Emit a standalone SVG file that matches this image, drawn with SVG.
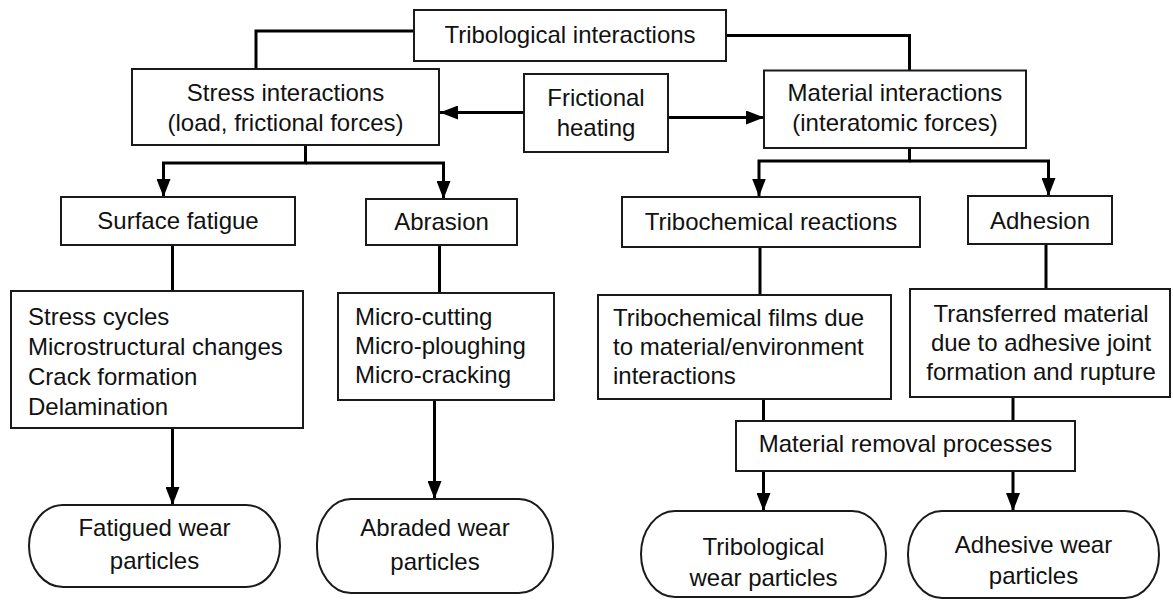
<svg xmlns="http://www.w3.org/2000/svg" width="1173" height="601" viewBox="0 0 1173 601">
<style>
  .box { fill: #fff; stroke: #1a1a1a; stroke-width: 2; }
  .t { font-family: "Liberation Sans", Arial, sans-serif; font-size: 24px; fill: #111; }
  .c { text-anchor: middle; }
  .conn path { fill: none; stroke: #000; stroke-width: 3; }
</style>
<defs>
  <marker id="arr" markerUnits="userSpaceOnUse" markerWidth="18" markerHeight="14" refX="18" refY="7" orient="auto">
    <path d="M0,0 L18,7 L0,14 Z" fill="#000"/>
  </marker>
</defs>
<rect width="1173" height="601" fill="#fff"/>

<g id="connectors" class="conn">
  <path d="M414,31 H256 V69"/>
  <path d="M726,35.5 H909.5 V70.5"/>
  <path d="M305.5,145 V163 H163.5 V197" marker-end="url(#arr)"/>
  <path d="M305.5,163 H443.5 V199" marker-end="url(#arr)"/>
  <path d="M524,112.5 H440" marker-end="url(#arr)"/>
  <path d="M668,117.5 H764" marker-end="url(#arr)"/>
  <path d="M909.5,148 V161 H759 V196.5" marker-end="url(#arr)"/>
  <path d="M909.5,161 H1048.5 V196" marker-end="url(#arr)"/>
  <path d="M172.5,245 V291"/>
  <path d="M439.5,245 V293"/>
  <path d="M760,247 V295"/>
  <path d="M1046,244 V289"/>
  <path d="M172.5,428 V505" marker-end="url(#arr)"/>
  <path d="M434.5,400 V499" marker-end="url(#arr)"/>
  <path d="M763.5,399 V421"/>
  <path d="M1013,397 V421"/>
  <path d="M763.5,471 V511" marker-end="url(#arr)"/>
  <path d="M1013,471 V511" marker-end="url(#arr)"/>
</g>

<g id="tribological-interactions">
  <rect class="box" x="414" y="10" width="312" height="51"/>
  <text class="t c" x="570" y="43">Tribological interactions</text>
</g>

<g id="stress-interactions">
  <rect class="box" x="132" y="69" width="307" height="76"/>
  <text class="t c" x="285.5" y="101">Stress interactions</text>
  <text class="t c" x="285.5" y="131">(load, frictional forces)</text>
</g>

<g id="frictional-heating">
  <rect class="box" x="524" y="74" width="144" height="78"/>
  <text class="t c" x="596" y="106">Frictional</text>
  <text class="t c" x="596" y="136">heating</text>
</g>

<g id="material-interactions">
  <rect class="box" x="764" y="70.5" width="262" height="77.5"/>
  <text class="t c" x="895" y="101">Material interactions</text>
  <text class="t c" x="895" y="131">(interatomic forces)</text>
</g>

<g id="surface-fatigue">
  <rect class="box" x="61" y="197" width="234" height="48"/>
  <text class="t c" x="178" y="229">Surface fatigue</text>
</g>

<g id="abrasion">
  <rect class="box" x="366" y="199" width="151" height="46"/>
  <text class="t c" x="441.5" y="230">Abrasion</text>
</g>

<g id="tribochemical-reactions">
  <rect class="box" x="622" y="197" width="298" height="50"/>
  <text class="t c" x="771" y="230">Tribochemical reactions</text>
</g>

<g id="adhesion">
  <rect class="box" x="968" y="196" width="144" height="48"/>
  <text class="t c" x="1040" y="229">Adhesion</text>
</g>

<g id="fatigue-mechanisms">
  <rect class="box" x="11" y="291" width="292" height="137"/>
  <text class="t" x="28" y="325">Stress cycles</text>
  <text class="t" x="28" y="355">Microstructural changes</text>
  <text class="t" x="28" y="385">Crack formation</text>
  <text class="t" x="28" y="415">Delamination</text>
</g>

<g id="abrasion-mechanisms">
  <rect class="box" x="338" y="293" width="216" height="107"/>
  <text class="t" x="355" y="325">Micro-cutting</text>
  <text class="t" x="355" y="354">Micro-ploughing</text>
  <text class="t" x="355" y="383">Micro-cracking</text>
</g>

<g id="tribochemical-films">
  <rect class="box" x="598" y="295" width="293" height="104"/>
  <text class="t" x="613" y="326">Tribochemical films due</text>
  <text class="t" x="613" y="355">to material/environment</text>
  <text class="t" x="613" y="384">interactions</text>
</g>

<g id="transferred-material">
  <rect class="box" x="910" y="289" width="260" height="108"/>
  <text class="t c" x="1041" y="322">Transferred material</text>
  <text class="t c" x="1041" y="351">due to adhesive joint</text>
  <text class="t c" x="1041" y="380">formation and rupture</text>
</g>

<g id="material-removal">
  <rect class="box" x="736" y="421" width="339" height="50"/>
  <text class="t c" x="905.5" y="452">Material removal processes</text>
</g>

<g id="fatigued-wear">
  <rect class="box" x="29" y="505" width="251" height="82" rx="34" ry="41"/>
  <text class="t c" x="154.5" y="536">Fatigued wear</text>
  <text class="t c" x="154.5" y="569">particles</text>
</g>

<g id="abraded-wear">
  <rect class="box" x="317" y="499" width="236" height="94" rx="34" ry="45"/>
  <text class="t c" x="435" y="536">Abraded wear</text>
  <text class="t c" x="435" y="570">particles</text>
</g>

<g id="tribological-wear">
  <rect class="box" x="641" y="511" width="245" height="86" rx="34" ry="43"/>
  <text class="t c" x="763.5" y="555">Tribological</text>
  <text class="t c" x="763.5" y="586">wear particles</text>
</g>

<g id="adhesive-wear">
  <rect class="box" x="908" y="511" width="251" height="87" rx="34" ry="43"/>
  <text class="t c" x="1033.5" y="553">Adhesive wear</text>
  <text class="t c" x="1033.5" y="584">particles</text>
</g>
</svg>
